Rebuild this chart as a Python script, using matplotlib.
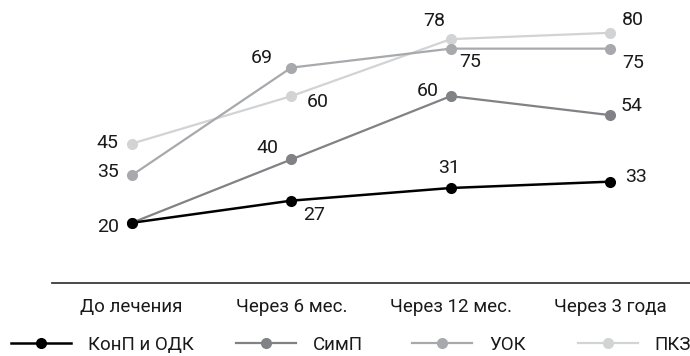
import matplotlib
matplotlib.use("Agg")
import matplotlib.pyplot as plt
from matplotlib.lines import Line2D

plt.rcParams['font.family'] = ['Roboto', 'DejaVu Sans']

categories = ["До лечения", "Через 6 мес.", "Через 12 мес.", "Через 3 года"]
series_names = ["КонП и ОДК", "СимП", "УОК", "ПКЗ"]
konp_odk = [20, 27, 31, 33]
simp = [20, 40, 60, 54]
uok = [35, 69, 75, 75]
pkz = [45, 60, 78, 80]

colors = ["#000000", "#808285", "#a7a9ac", "#d1d3d4"]
linewidths = [1.8, 1.6, 1.6, 1.6]
# label offsets in pixels (dx, dy, ha) per series per point
offsets = [
    [(-13, -4, 'right'), (12, -14, 'left'), (-2, 20, 'center'), (15, 5, 'left')],
    [None, (-13, 11, 'right'), (-12, 5, 'right'), (10, 9, 'left')],
    [(-13, 3, 'right'), (-18, 10, 'right'), (8, -13, 'left'), (12, -14, 'left')],
    [(-13, 1, 'right'), (16, -6, 'left'), (-5, 18, 'right'), (12, 13, 'left')],
]

W, H = 690, 356
fig = plt.figure(figsize=(W / 100, H / 100), dpi=100)
ax = fig.add_axes([52 / W, (H - 283) / H, 1 - 52 / W, (283 - 10) / H])

x = list(range(len(categories)))
all_series = [konp_odk, simp, uok, pkz]
for i in reversed(range(4)):
    ax.plot(x, all_series[i], color=colors[i], lw=linewidths[i], marker='o',
            markersize=8, markeredgewidth=0, zorder=3 + (3 - i))
for i in range(4):
    for j, v in enumerate(all_series[i]):
        off = offsets[i][j]
        if off is None:
            continue
        dx, dy, ha = off
        ax.annotate(str(v), (x[j], v), xytext=(dx, dy), textcoords='offset pixels',
                    ha=ha, va='center', fontsize=14, color='#1a1a1a', zorder=10)

ax.set_xlim(-0.5, 3.5)
ax.set_ylim(1, 87.2)
ax.set_xticks(x)
ax.set_xticklabels(categories, fontsize=13.5, color='#1a1a1a')
ax.set_yticks([])
ax.tick_params(axis='x', length=0, pad=11)
for s in ['top', 'right', 'left']:
    ax.spines[s].set_visible(False)
ax.spines['bottom'].set_color('#3a3a3a')
ax.spines['bottom'].set_linewidth(1.3)

legend_x = [11, 236, 412, 578]
for i in range(4):
    h = Line2D([0], [0], color=colors[i], lw=linewidths[i], marker='o', markersize=8,
               markeredgewidth=0)
    fig.legend([h], [series_names[i]], loc='center left',
               bbox_to_anchor=(legend_x[i] / W, 1 - 345 / H), frameon=False,
               borderpad=0, borderaxespad=0, handlelength=3.2, handletextpad=0.9,
               fontsize=13.5, labelcolor='#1a1a1a')

fig.savefig("out.png", dpi=100)
